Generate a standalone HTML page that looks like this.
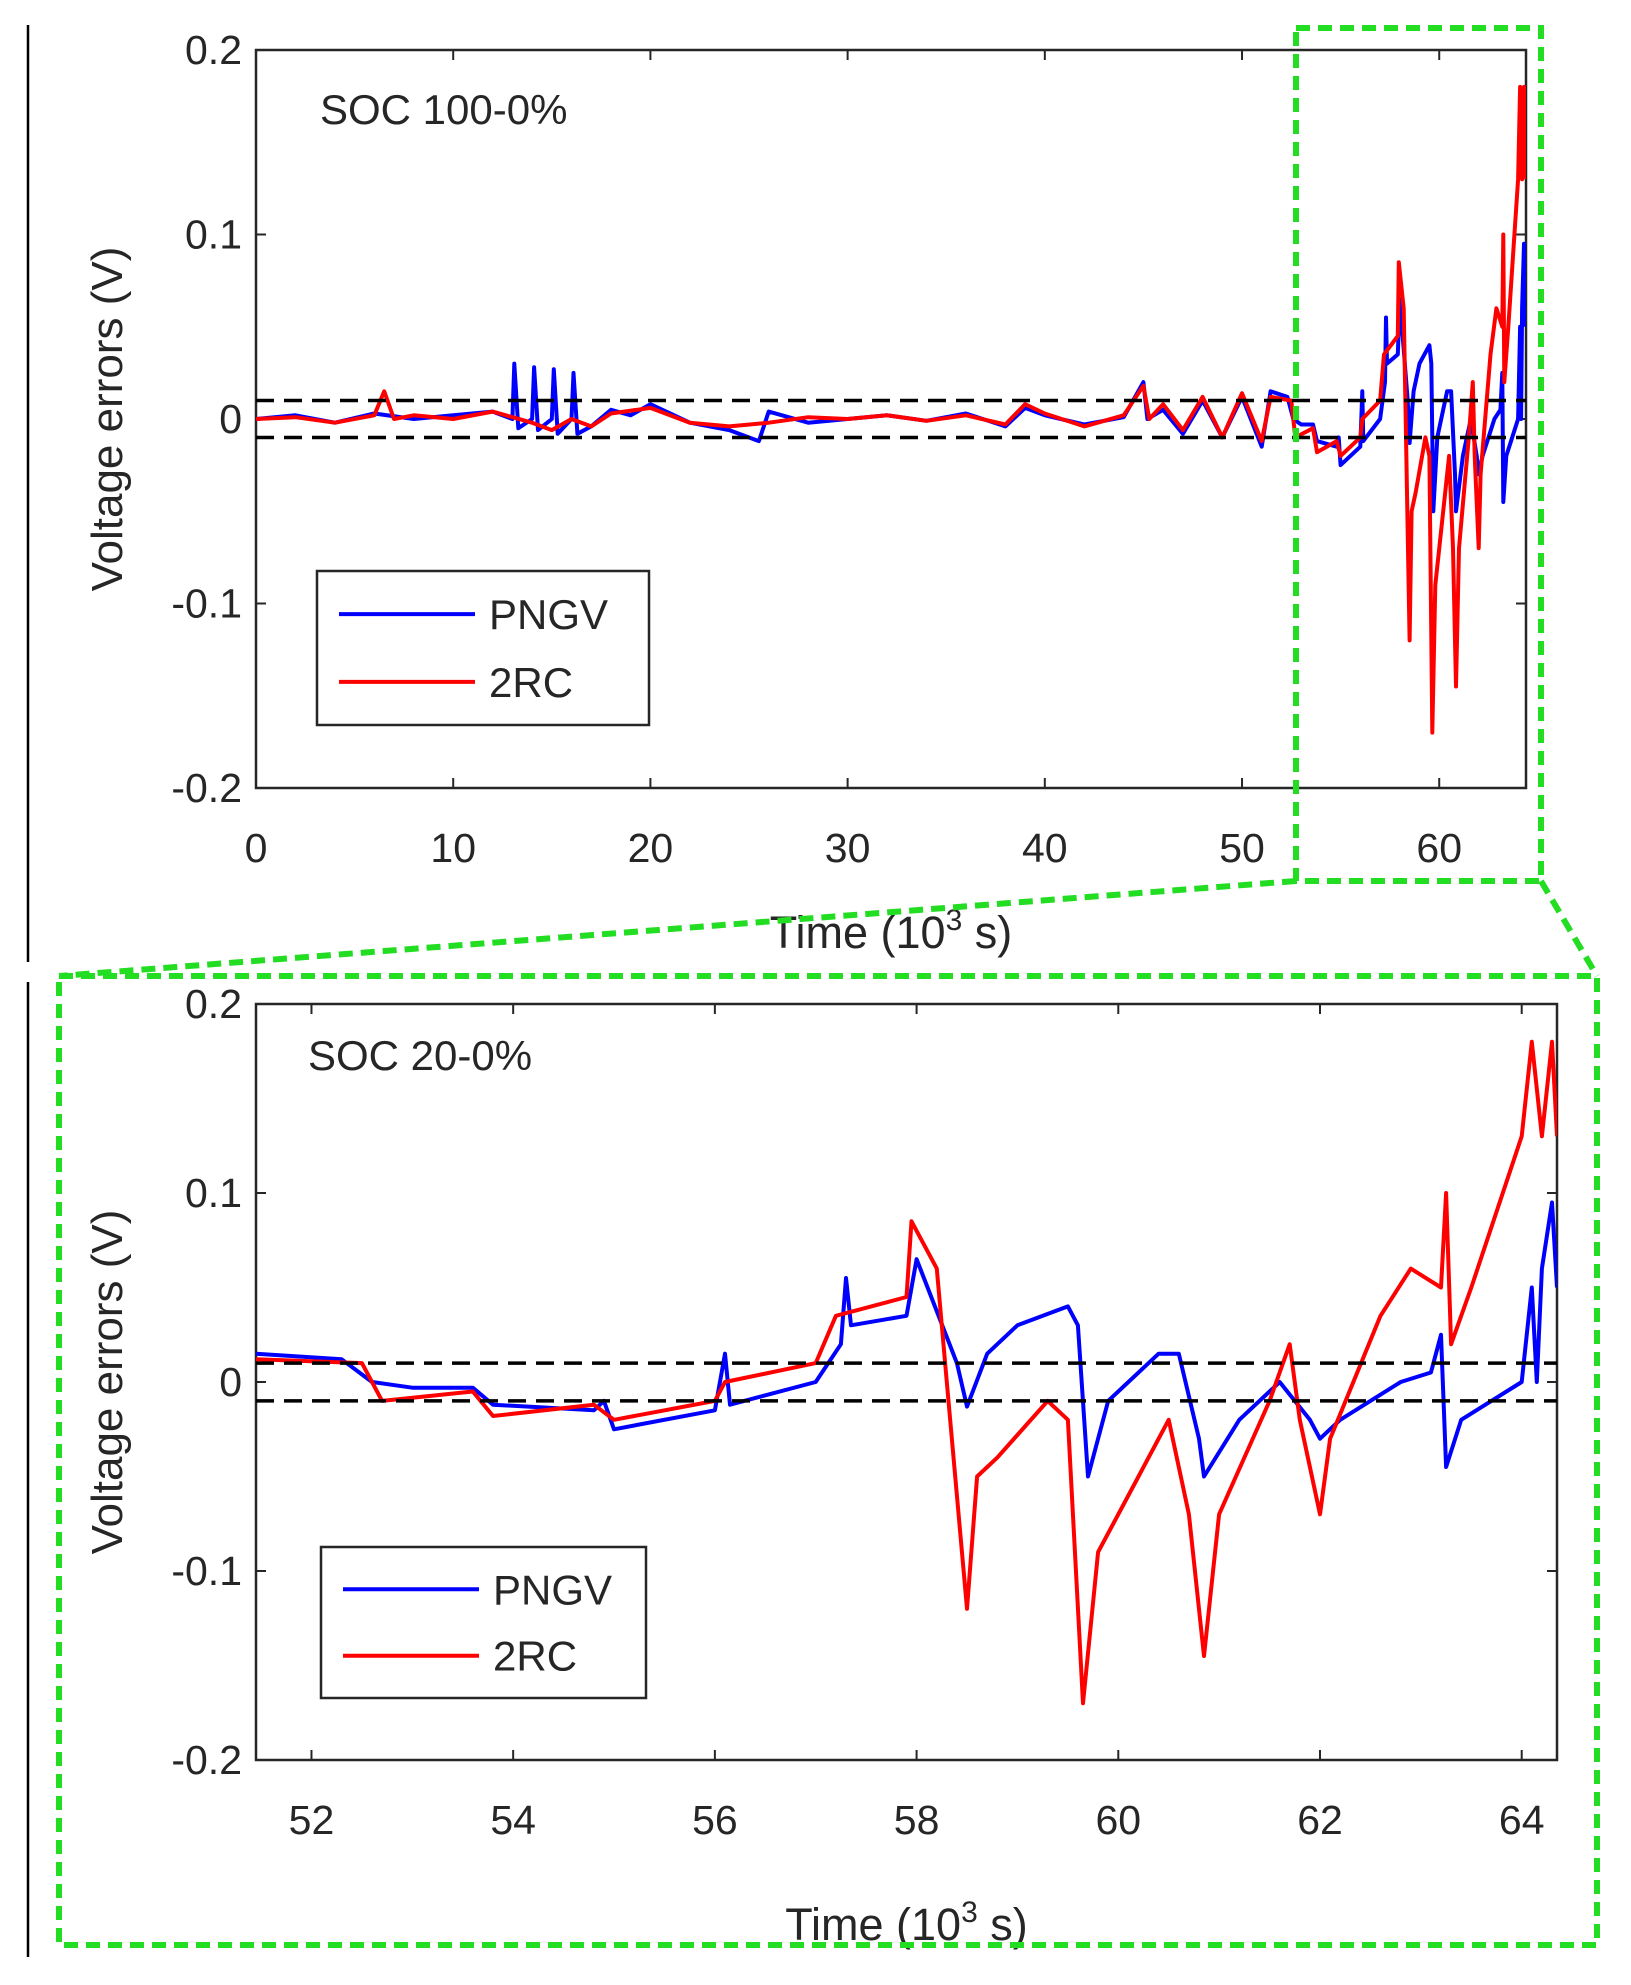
<!DOCTYPE html>
<html><head><meta charset="utf-8"><style>
html,body{margin:0;padding:0;background:#fff;}
svg text{font-family:"Liberation Sans",sans-serif;fill:#262626;}
</style></head><body>
<svg id="fig" width="1631" height="1980" viewBox="0 0 1631 1980" xmlns="http://www.w3.org/2000/svg"></svg>
<script>
// ---- data (time in 10^3 s, voltage error in V) ----
const zoomPngvT=[51.45,52.3,52.6,53.0,53.6,53.8,54.8,54.9,55.0,56.0,56.1,56.15,57.0,57.25,57.3,57.35,57.9,58.0,58.4,58.5,58.7,59.0,59.5,59.6,59.7,59.9,60.4,60.6,60.8,60.85,61.2,61.6,61.9,62.0,62.2,62.8,63.1,63.2,63.25,63.4,64.0,64.1,64.15,64.2,64.3,64.35];
const zoomPngvV=[0.015,0.012,0.0,-0.003,-0.003,-0.012,-0.015,-0.01,-0.025,-0.015,0.015,-0.012,0.0,0.02,0.055,0.03,0.035,0.065,0.01,-0.013,0.015,0.03,0.04,0.03,-0.05,-0.01,0.015,0.015,-0.03,-0.05,-0.02,0.0,-0.02,-0.03,-0.02,0.0,0.005,0.025,-0.045,-0.02,0.0,0.05,0.0,0.06,0.095,0.05];
const zoomRcT=[51.45,52.5,52.7,53.6,53.8,54.8,55.0,56.0,56.1,57.0,57.2,57.9,57.95,58.2,58.3,58.5,58.6,58.8,59.3,59.5,59.65,59.8,60.2,60.5,60.7,60.85,61.0,61.5,61.7,61.8,62.0,62.1,62.6,62.9,63.2,63.25,63.3,63.5,64.0,64.1,64.2,64.3,64.35];
const zoomRcV=[0.012,0.01,-0.01,-0.005,-0.018,-0.012,-0.02,-0.01,0.0,0.01,0.035,0.045,0.085,0.06,0.0,-0.12,-0.05,-0.04,-0.01,-0.02,-0.17,-0.09,-0.05,-0.02,-0.07,-0.145,-0.07,-0.01,0.02,-0.02,-0.07,-0.03,0.035,0.06,0.05,0.1,0.02,0.05,0.13,0.18,0.13,0.18,0.13];
const earlyPngvT=[0,2,4,6,8,10,12,13.0,13.1,13.3,14.0,14.1,14.3,15.0,15.1,15.3,16.0,16.1,16.3,17,18,19,20,22,24,25.5,26,28,30,32,34,36,38,39,40,42,44,45,45.2,46,47,48,49,50,51,51.45];
const earlyPngvV=[0,0.002,-0.002,0.003,0,0.002,0.004,0.0,0.03,-0.005,0.0,0.028,-0.006,0.0,0.027,-0.008,0.0,0.025,-0.008,-0.004,0.005,0.002,0.008,-0.002,-0.006,-0.012,0.004,-0.002,0.0,0.002,-0.001,0.003,-0.004,0.006,0.002,-0.003,0.001,0.02,0.0,0.005,-0.008,0.01,-0.01,0.012,-0.015,0.015];
const earlyRcT=[0,2,4,6,6.5,7,8,10,12,14,15,16,17,18,20,22,24,26,28,30,32,34,36,38,39,40,42,44,45,45.3,46,47,48,49,50,51,51.45];
const earlyRcV=[0,0.001,-0.002,0.002,0.015,0.0,0.002,0.0,0.004,-0.002,-0.006,0.0,-0.004,0.003,0.006,-0.002,-0.004,-0.002,0.001,0.0,0.002,-0.001,0.002,-0.003,0.008,0.003,-0.004,0.002,0.018,0.0,0.008,-0.006,0.012,-0.01,0.014,-0.012,0.012];
const yTicks=[0.2,0.1,0,-0.1,-0.2];
const yTickLabels=["0.2","0.1","0","-0.1","-0.2"];
const topXTicks=[0,10,20,30,40,50,60];
const botXTicks=[52,54,56,58,60,62,64];
const bandLevels=[0.01,-0.01];

const svg=document.getElementById('fig');
const NS='http://www.w3.org/2000/svg';
function mk(tag,attrs,parent){const e=document.createElementNS(NS,tag);for(const k in attrs)e.setAttribute(k,attrs[k]);(parent||svg).appendChild(e);return e;}

function drawPanel(p){
  const g=mk('g',{});
  
  
  const sx=t=>p.L+(t-p.x0)/(p.x1-p.x0)*(p.R-p.L);
  const sy=v=>p.T+(0.2-v)/0.4*(p.B-p.T);
  const clipId=p.name+'-clip';
  const cp=mk('clipPath',{id:clipId},g);mk('rect',{x:p.L,y:p.T,width:p.R-p.L,height:p.B-p.T},cp);
  mk('rect',{x:p.L,y:p.T,width:p.R-p.L,height:p.B-p.T,fill:'#fff',stroke:'#262626','stroke-width':2.5},g);
  yTicks.forEach((v,i)=>{
    mk('line',{x1:p.L,x2:p.L+10,y1:sy(v),y2:sy(v),stroke:'#262626','stroke-width':2},g);
    mk('line',{x1:p.R,x2:p.R-10,y1:sy(v),y2:sy(v),stroke:'#262626','stroke-width':2},g);
    const t=mk('text',{x:p.L-14,y:sy(v)+14,'text-anchor':'end','font-size':41},g);
    
    
    t.textContent=yTickLabels[i];
  });
  p.xt.forEach(v=>{
    mk('line',{x1:sx(v),x2:sx(v),y1:p.B,y2:p.B-10,stroke:'#262626','stroke-width':2},g);
    mk('line',{x1:sx(v),x2:sx(v),y1:p.T,y2:p.T+10,stroke:'#262626','stroke-width':2},g);
    const t=mk('text',{x:sx(v),y:p.B+p.xtOff,'text-anchor':'middle','font-size':41},g);
    
    
    t.textContent=String(v);
  });
  const series=[[p.bt,p.bv,'#0000ff','pngv-line'],[p.rt,p.rv,'#ff0000','2rc-line']];
  series.forEach(s=>{
    const d=s[0].map((t,i)=>(i?'L':'M')+sx(t).toFixed(1)+','+sy(s[1][i]).toFixed(1)).join('');
    const pa=mk('path',{d:d,fill:'none',stroke:s[2],'stroke-width':4,'stroke-linejoin':'round','clip-path':'url(#'+clipId+')'},g);
    
    
  });
  bandLevels.forEach(v=>{
    const l=mk('line',{x1:p.L,x2:p.R,y1:sy(v),y2:sy(v),stroke:'#000','stroke-width':3.5,'stroke-dasharray':'18,10'},g);
    
    
  });
  const ti=mk('text',{x:p.L+p.tx,y:p.T+p.ty,'font-size':42},g);
  
  
  ti.textContent=p.title;
  const yl=mk('text',{x:0,y:0,'text-anchor':'middle','font-size':44,transform:'translate('+(p.L-134)+','+((p.T+p.B)/2)+') rotate(-90)'},g);
  
  
  yl.textContent='Voltage errors (V)';
  const xl=mk('text',{x:(p.L+p.R)/2,y:p.B+p.xlOff,'text-anchor':'middle','font-size':45},g);
  
  
  xl.innerHTML='Time (10<tspan dy="-18" font-size="30">3</tspan><tspan dy="18"> s)</tspan>';
  const lg=mk('g',{},g);
  
  
  mk('rect',{x:p.lx,y:p.ly,width:p.lw,height:p.lh,fill:'#fff',stroke:'#262626','stroke-width':2.5},lg);
  [['PNGV','#0000ff'],['2RC','#ff0000']].forEach((e,i)=>{
    const yy=p.ly+p.lh*(0.28+0.44*i);
    mk('line',{x1:p.lx+22,x2:p.lx+158,y1:yy,y2:yy,stroke:e[1],'stroke-width':4},lg);
    const t=mk('text',{x:p.lx+172,y:yy+15,'font-size':42},lg);
    
    
    t.textContent=e[0];
  });
}

mk('line',{x1:28,x2:28,y1:25,y2:962,stroke:'#000','stroke-width':2.5});
mk('line',{x1:28,x2:28,y1:982,y2:1957,stroke:'#000','stroke-width':2.5});

drawPanel({name:'top-chart',L:256,R:1526,T:50,B:788,x0:0,x1:64.4,xt:topXTicks,xtOff:74,xlOff:160,
  bt:earlyPngvT.concat(zoomPngvT.slice(1)),bv:earlyPngvV.concat(zoomPngvV.slice(1)),
  rt:earlyRcT.concat(zoomRcT.slice(1)),rv:earlyRcV.concat(zoomRcV.slice(1)),
  title:'SOC 100-0%',tx:64,ty:74,lx:317,ly:571,lw:332,lh:154});
drawPanel({name:'bottom-chart',L:256,R:1557,T:1004,B:1760,x0:51.45,x1:64.35,xt:botXTicks,xtOff:74,xlOff:180,
  bt:zoomPngvT,bv:zoomPngvV,rt:zoomRcT,rv:zoomRcV,
  title:'SOC 20-0%',tx:52,ty:66,lx:321,ly:1547,lw:325,lh:151});

const G='#22dd22';
const z1=mk('rect',{x:1296,y:28,width:245,height:853,fill:'none',stroke:G,'stroke-width':6,'stroke-dasharray':'14,8'});


const z2=mk('rect',{x:59,y:976,width:1538,height:969,fill:'none',stroke:G,'stroke-width':6,'stroke-dasharray':'14,8'});


mk('line',{x1:1296,y1:881,x2:59,y2:976,stroke:G,'stroke-width':6,'stroke-dasharray':'14,8'});
mk('line',{x1:1541,y1:881,x2:1597,y2:976,stroke:G,'stroke-width':6,'stroke-dasharray':'14,8'});
</script>
</body></html>
